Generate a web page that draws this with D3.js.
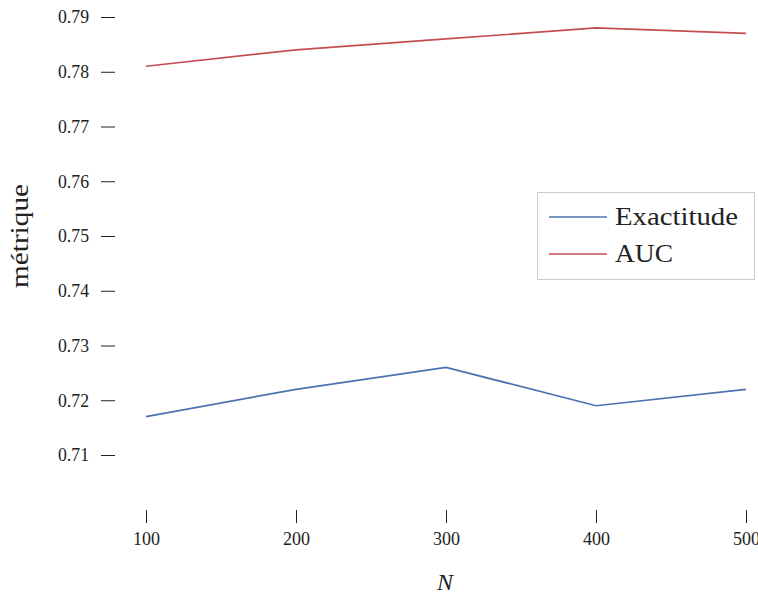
<!DOCTYPE html>
<html><head><meta charset="utf-8">
<script src="https://cdn.jsdelivr.net/npm/d3@7"></script>
<style>body{margin:0;background:#fff}svg{display:block}text{font-family:"Liberation Serif","DejaVu Serif",serif;fill:#222}</style>
</head><body><svg id="c" width="758" height="597"></svg>
<script>
const nValues = [100, 200, 300, 400, 500];
const exactitude = [0.717, 0.722, 0.726, 0.719, 0.722];
const auc = [0.781, 0.784, 0.786, 0.788, 0.787];
const yTicks = [0.71, 0.72, 0.73, 0.74, 0.75, 0.76, 0.77, 0.78, 0.79];
const seriesNames = ["Exactitude", "AUC"];
const seriesColors = ["#4c72b0", "#c44e52"];

const svg = d3.select("#c");
const x = d3.scaleLinear().domain([100, 500]).range([146, 746]);
const y = d3.scaleLinear().domain([0.71, 0.79]).range([455, 17]);

// y axis
const ya = svg.append("g").attr("transform", "translate(115,0)")
  .call(d3.axisLeft(y).tickValues(yTicks).tickFormat(d3.format(".2f")).tickSize(14).tickPadding(12));
ya.select(".domain").remove();
ya.selectAll("line").attr("stroke", "#222");
ya.selectAll("text").style("font-size", "18px").style("font-family", "Liberation Serif").attr("fill", "#222")
  .attr("textLength", 31).attr("lengthAdjust", "spacingAndGlyphs");

// x axis
const xa = svg.append("g").attr("transform", "translate(0,510)")
  .call(d3.axisBottom(x).tickValues(nValues).tickFormat(d3.format("d")).tickSize(13).tickPadding(9));
xa.select(".domain").remove();
xa.selectAll("line").attr("stroke", "#222");
xa.selectAll("text").style("font-size", "18px").style("font-family", "Liberation Serif").attr("fill", "#222")
  .attr("textLength", 27).attr("lengthAdjust", "spacingAndGlyphs");

svg.append("text").attr("x", 445).attr("y", 590).attr("text-anchor", "middle")
  .style("font-size", "24px").attr("font-style", "italic").text("N");
svg.append("text").attr("transform", "translate(28,236) rotate(-90)").attr("text-anchor", "middle")
  .style("font-size", "25px").attr("textLength", 104).attr("lengthAdjust", "spacingAndGlyphs").text("métrique");

const data = [exactitude, auc];
const line = d3.line().x((d, i) => x(nValues[i])).y(d => y(d));
data.forEach((s, k) => {
  svg.append("path").datum(s).attr("d", line).attr("fill", "none")
    .attr("stroke", seriesColors[k]).attr("stroke-width", 1.7);
});

// legend
const lg = svg.append("g");
lg.append("rect").attr("x", 537.5).attr("y", 192.5).attr("width", 217).attr("height", 87)
  .attr("fill", "#fff").attr("stroke", "#ccc").attr("stroke-width", 1);
const legendLens = [123, 58];
seriesNames.forEach((n, k) => {
  const yy = 217 + k * 37;
  lg.append("line").attr("x1", 549).attr("x2", 607).attr("y1", yy).attr("y2", yy)
    .attr("stroke", seriesColors[k]).attr("stroke-width", 1.7);
  lg.append("text").attr("x", 615).attr("y", yy + 8).style("font-size", "26px")
    .attr("textLength", legendLens[k]).attr("lengthAdjust", "spacingAndGlyphs").text(n);
});
</script></body></html>
